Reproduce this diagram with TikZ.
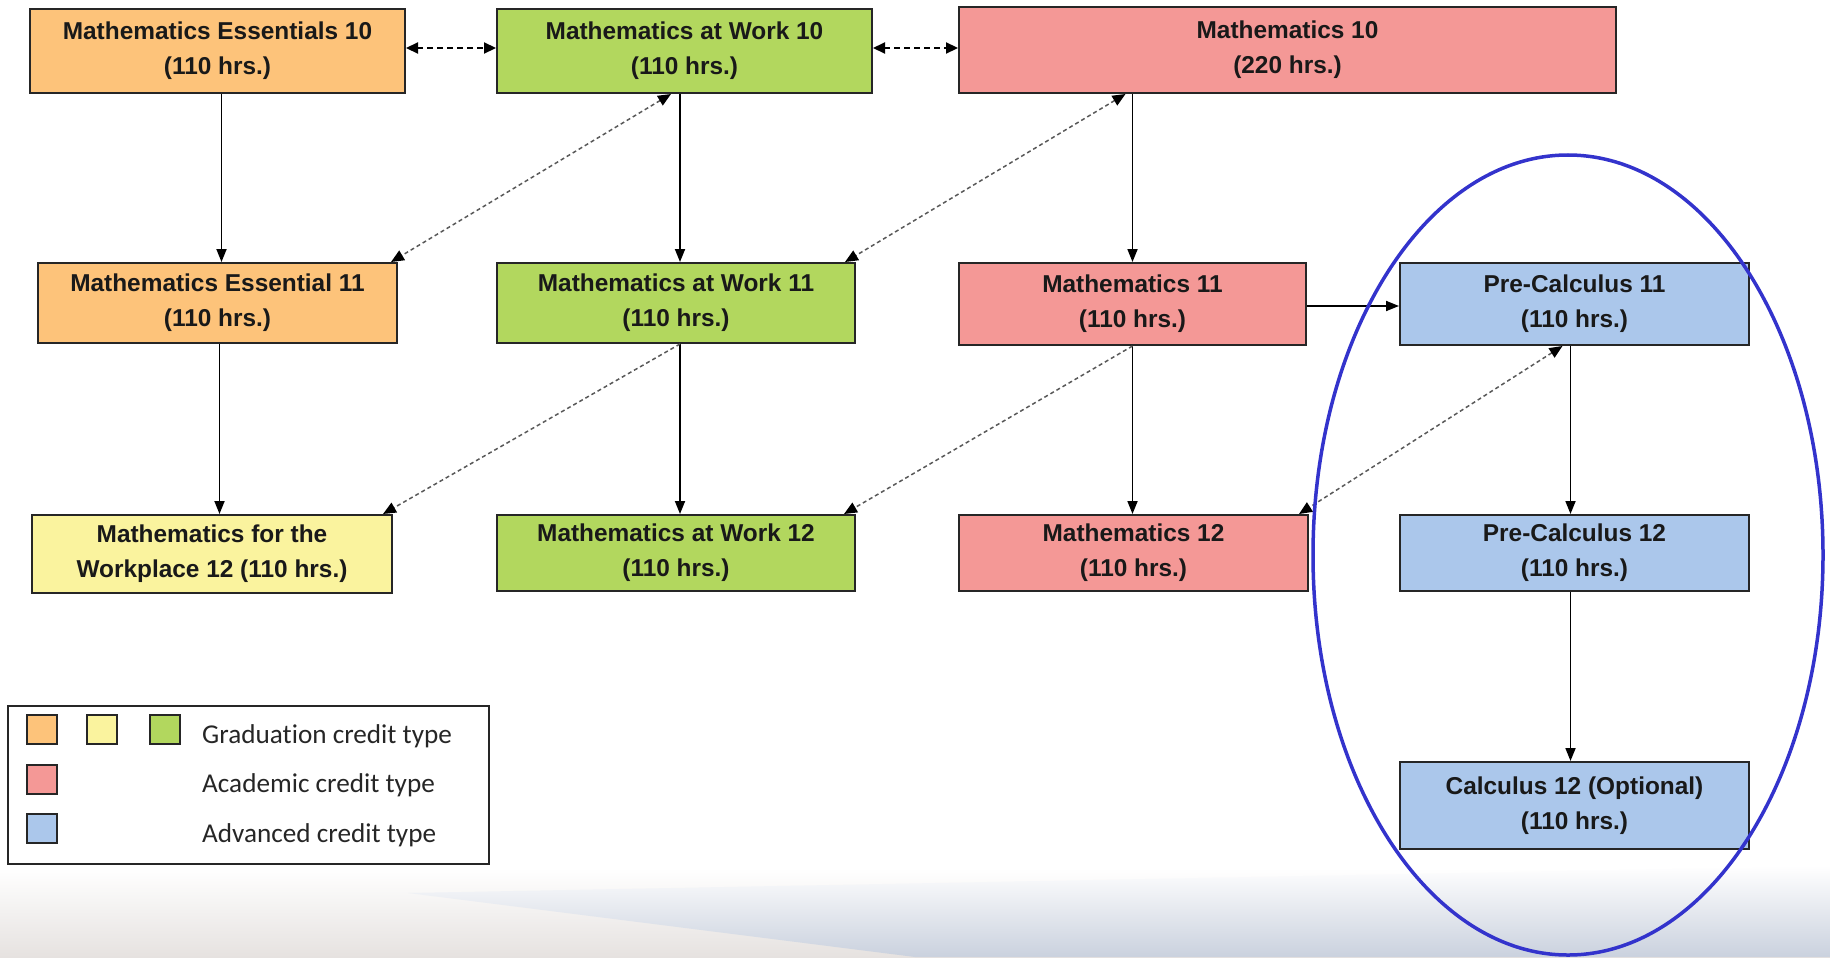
\documentclass[tikz,border=0pt]{standalone}
\usepackage{fontspec}
\setmainfont{Liberation Sans}
\newfontfamily\legfont{Carlito}[Ligatures=NoCommon]
\usetikzlibrary{arrows.meta}
\definecolor{cOrange}{RGB}{253,195,122}
\definecolor{cGreen}{RGB}{178,215,94}
\definecolor{cPink}{RGB}{244,152,150}
\definecolor{cBlue}{RGB}{171,199,235}
\definecolor{cYellow}{RGB}{250,243,158}
\definecolor{cEll}{RGB}{51,51,204}
\definecolor{bgL}{RGB}{230,226,224}
\definecolor{bgR}{RGB}{202,209,222}
\tikzset{
  box/.style={draw=black!85, line width=2bp, inner sep=0pt, align=center,
    font=\fontsize{24.5}{35}\selectfont\bfseries, text=black!90},
  swatch/.style={draw=black!85, line width=2bp, minimum width=30bp, minimum height=29bp, inner sep=0pt},
  legtext/.style={anchor=base west, inner sep=0pt, text=black!85, font=\legfont\fontsize{27.3}{30}\selectfont},
  sol/.style={line width=1.8bp, -{Triangle[length=13bp,width=10bp]}},
  hd/.style={line width=2.2bp, dash pattern=on 6bp off 4bp,
    {Triangle[length=12bp,width=11bp]}-{Triangle[length=12bp,width=11bp]}},
  dd/.style={line width=1.5bp, draw=black!65, dash pattern=on 4bp off 3bp},
  ddtip/.style={-{Triangle[length=13bp,width=11bp,color=black]}},
  ddboth/.style={{Triangle[length=13bp,width=11bp,color=black]}-{Triangle[length=13bp,width=11bp,color=black]}}
}
\begin{document}
\begin{tikzpicture}[x=1bp,y=-1bp]
\useasboundingbox (0,0) rectangle (1830,957);
% background swoosh
\shade[top color=white, bottom color=bgL] (0,868) rectangle (1830,957);
\shade[top color=white, bottom color=bgR] (408,893) -- (1830,866) -- (1830,957) -- (915,957) -- cycle;

% boxes
\node[box, fill=cOrange, minimum width=375bp, minimum height=84bp] (ME10) at (217.5,51) {Mathematics Essentials 10\\(110 hrs.)};
\node[box, fill=cGreen, minimum width=375bp, minimum height=84bp] (MW10) at (684.5,51) {Mathematics at Work 10\\(110 hrs.)};
\node[box, fill=cPink, minimum width=657bp, minimum height=86bp] (M10) at (1287.5,50) {Mathematics 10\\(220 hrs.)};

\node[box, fill=cOrange, minimum width=359bp, minimum height=80bp] (ME11) at (217.5,303) {Mathematics Essential 11\\(110 hrs.)};
\node[box, fill=cGreen, minimum width=358bp, minimum height=80bp] (MW11) at (676,303) {Mathematics at Work 11\\(110 hrs.)};
\node[box, fill=cPink, minimum width=347bp, minimum height=82bp] (M11) at (1132.5,304) {Mathematics 11\\(110 hrs.)};
\node[box, fill=cBlue, minimum width=349bp, minimum height=82bp] (PC11) at (1574.5,304) {Pre-Calculus 11\\(110 hrs.)};

\node[box, fill=cYellow, minimum width=360bp, minimum height=78bp] (MWP12) at (212,554) {Mathematics for the\\Workplace 12 (110 hrs.)};
\node[box, fill=cGreen, minimum width=358bp, minimum height=76bp] (MW12) at (676,553) {Mathematics at Work 12\\(110 hrs.)};
\node[box, fill=cPink, minimum width=349bp, minimum height=76bp] (M12) at (1133.5,553) {Mathematics 12\\(110 hrs.)};
\node[box, fill=cBlue, minimum width=349bp, minimum height=76bp] (PC12) at (1574.5,553) {Pre-Calculus 12\\(110 hrs.)};
\node[box, fill=cBlue, minimum width=349bp, minimum height=87bp] (C12) at (1574.5,805.5) {Calculus 12 (Optional)\\(110 hrs.)};

% solid arrows
\draw[sol] ([xshift=4bp]ME10.south) -- ([xshift=4bp]ME10.south |- ME11.north);
\draw[sol] ([xshift=4bp]MW11.north |- MW10.south) -- ([xshift=4bp]MW11.north);
\draw[sol] (M11.north |- M10.south) -- (M11.north);
\draw[sol] ([xshift=2bp]ME11.south) -- ([xshift=2bp]ME11.south |- MWP12.north);
\draw[sol] ([xshift=4bp]MW11.south) -- ([xshift=4bp]MW12.north);
\draw[sol] (M11.south) -- (M11.south |- M12.north);
\draw[sol] ([xshift=-4bp]PC11.south) -- ([xshift=-4bp]PC12.north);
\draw[sol] ([xshift=-4bp]PC12.south) -- ([xshift=-4bp]C12.north);
\draw[sol] ([yshift=-2bp]M11.east) -- ([yshift=-2bp]M11.east -| PC11.west);

% dashed horizontal
\draw[hd] ([yshift=3bp]ME10.east) -- ([yshift=3bp]ME10.east -| MW10.west);
\draw[hd] ([yshift=3bp]MW10.east) -- ([yshift=3bp]MW10.east -| M10.west);

% dashed diagonals
\draw[dd, ddboth] ([xshift=-5bp]MW11.north |- MW10.south) -- ([xshift=-7bp]ME11.north east);
\draw[dd, ddboth] ([xshift=-7bp]M11.north |- M10.south) -- ([xshift=-11bp]MW11.north east);
\draw[dd, ddtip] ([xshift=4bp]MW11.south) -- ([xshift=-10bp]MWP12.north east);
\draw[dd, ddtip] (M11.south) -- ([xshift=-12bp]MW12.north east);
\draw[dd, ddboth] ([xshift=-12bp]PC11.south) -- ([xshift=-10bp]M12.north east);

% legend
\node[draw=black!85, line width=2bp, minimum width=481bp, minimum height=158bp, inner sep=0pt] (leg) at (248.5,785) {};
\node[swatch, fill=cOrange] (sw1) at (42,729.5) {};
\node[swatch, fill=cYellow] (sw2) at (102,729.5) {};
\node[swatch, fill=cGreen] (sw3) at (164.5,729.5) {};
\node[swatch, fill=cPink] (sw4) at (42,779) {};
\node[swatch, fill=cBlue] (sw5) at (42,828.5) {};
\node[legtext] (lt1) at (202,743) {Graduation credit type};
\node[legtext] (lt2) at (202,792.5) {Academic credit type};
\node[legtext] (lt3) at (202,842) {Advanced credit type};

% highlight ellipse
\draw[cEll, line width=3.5bp] (1568,555) ellipse [x radius=255bp, y radius=400bp];
\end{tikzpicture}
\end{document}
